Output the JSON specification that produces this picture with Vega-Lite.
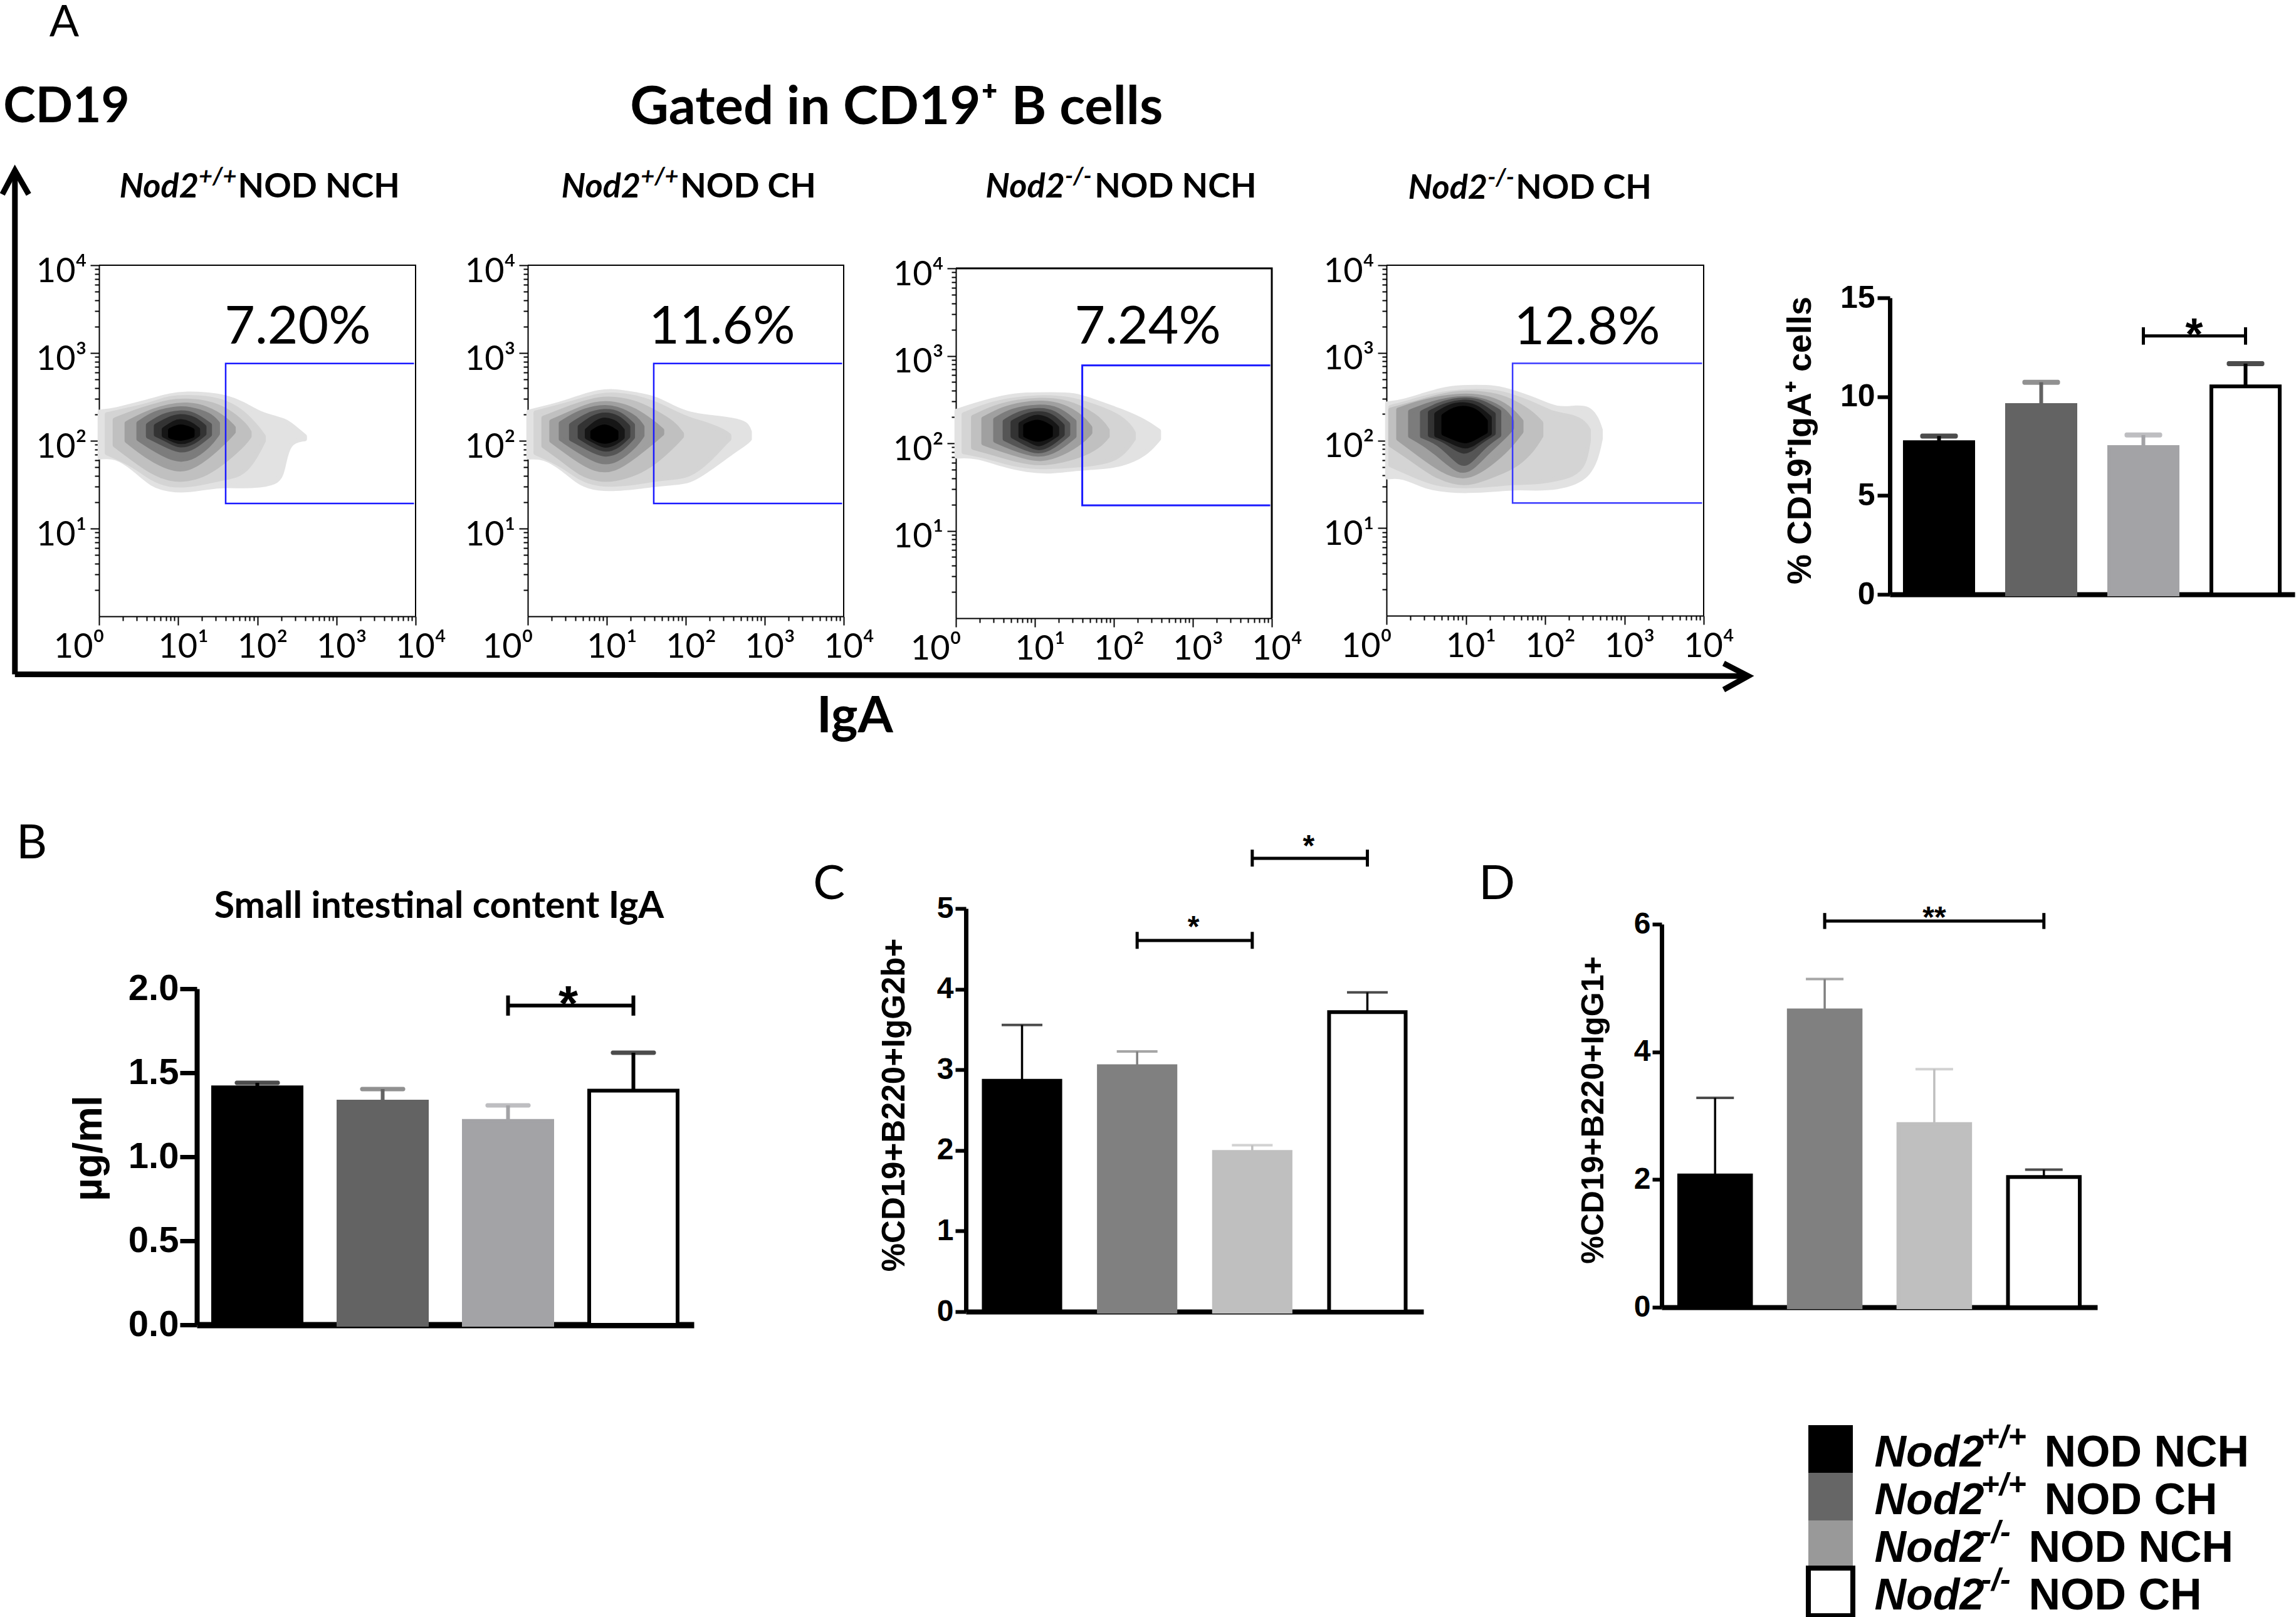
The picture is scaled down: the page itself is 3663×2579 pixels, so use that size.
{"$schema":"https://vega.github.io/schema/vega-lite/v6.json","autosize":{"type":"none"},"padding":{"left":158,"top":423,"right":3505,"bottom":2156},"background":"white","config":{"view":{"stroke":null},"axis":{"grid":false,"domainColor":"#000","tickColor":"#000","labelColor":"#000"}},
"resolve":{"scale":{"color":"independent","fill":"independent","stroke":"independent"}},
"datasets":{
"frame":[{"o":1,"x":0,"y":4},{"o":2,"x":4,"y":4},{"o":3,"x":4,"y":0}],
"gate":[{"panel":1,"o":1,"x":3.98,"y":2.88},{"panel":1,"o":2,"x":1.6,"y":2.88},{"panel":1,"o":3,"x":1.6,"y":1.286},{"panel":1,"o":4,"x":3.98,"y":1.286},{"panel":2,"o":1,"x":3.98,"y":2.88},{"panel":2,"o":2,"x":1.595,"y":2.88},{"panel":2,"o":3,"x":1.595,"y":1.286},{"panel":2,"o":4,"x":3.98,"y":1.286},{"panel":3,"o":1,"x":3.98,"y":2.89},{"panel":3,"o":2,"x":1.6,"y":2.89},{"panel":3,"o":3,"x":1.6,"y":1.29},{"panel":3,"o":4,"x":3.98,"y":1.29},{"panel":4,"o":1,"x":3.98,"y":2.88},{"panel":4,"o":2,"x":1.59,"y":2.88},{"panel":4,"o":3,"x":1.59,"y":1.286},{"panel":4,"o":4,"x":3.98,"y":1.286}],
"flow":[
{"panel":1,"level":1,"x":0.01,"y":2.33,"y2":1.81},{"panel":1,"level":1,"x":0.2,"y":2.35,"y2":1.83},{"panel":1,"level":1,"x":0.45,"y":2.41,"y2":1.68},{"panel":1,"level":1,"x":0.67,"y":2.46,"y2":1.49},{"panel":1,"level":1,"x":0.89,"y":2.52,"y2":1.44},{"panel":1,"level":1,"x":1.11,"y":2.54,"y2":1.43},{"panel":1,"level":1,"x":1.36,"y":2.53,"y2":1.47},{"panel":1,"level":1,"x":1.61,"y":2.5,"y2":1.49},{"panel":1,"level":1,"x":1.83,"y":2.42,"y2":1.48},{"panel":1,"level":1,"x":2.02,"y":2.31,"y2":1.49},{"panel":1,"level":1,"x":2.27,"y":2.25,"y2":1.52},{"panel":1,"level":1,"x":2.33,"y":2.23,"y2":1.69},{"panel":1,"level":1,"x":2.39,"y":2.21,"y2":1.99},{"panel":1,"level":1,"x":2.6,"y":2.05,"y2":2.02},
{"panel":1,"level":2,"x":0.1,"y":2.3,"y2":1.86},{"panel":1,"level":2,"x":0.45,"y":2.37,"y2":1.72},{"panel":1,"level":2,"x":0.67,"y":2.42,"y2":1.56},{"panel":1,"level":2,"x":0.89,"y":2.49,"y2":1.49},{"panel":1,"level":2,"x":1.11,"y":2.5,"y2":1.49},{"panel":1,"level":2,"x":1.36,"y":2.49,"y2":1.53},{"panel":1,"level":2,"x":1.61,"y":2.44,"y2":1.58},{"panel":1,"level":2,"x":1.83,"y":2.32,"y2":1.62},{"panel":1,"level":2,"x":2.0,"y":2.15,"y2":1.85},{"panel":1,"level":2,"x":2.08,"y":2.05,"y2":2.0},
{"panel":1,"level":3,"x":0.2,"y":2.24,"y2":1.95},{"panel":1,"level":3,"x":0.45,"y":2.33,"y2":1.78},{"panel":1,"level":3,"x":0.67,"y":2.39,"y2":1.64},{"panel":1,"level":3,"x":0.89,"y":2.45,"y2":1.56},{"panel":1,"level":3,"x":1.11,"y":2.46,"y2":1.55},{"panel":1,"level":3,"x":1.36,"y":2.44,"y2":1.62},{"panel":1,"level":3,"x":1.61,"y":2.36,"y2":1.78},{"panel":1,"level":3,"x":1.85,"y":2.18,"y2":1.98},{"panel":1,"level":3,"x":1.9,"y":2.1,"y2":2.05},
{"panel":1,"level":4,"x":0.35,"y":2.2,"y2":2.0},{"panel":1,"level":4,"x":0.6,"y":2.32,"y2":1.82},{"panel":1,"level":4,"x":0.89,"y":2.4,"y2":1.68},{"panel":1,"level":4,"x":1.11,"y":2.42,"y2":1.66},{"panel":1,"level":4,"x":1.36,"y":2.38,"y2":1.8},{"panel":1,"level":4,"x":1.6,"y":2.25,"y2":2.0},{"panel":1,"level":4,"x":1.7,"y":2.15,"y2":2.1},
{"panel":1,"level":5,"x":0.5,"y":2.2,"y2":2.02},{"panel":1,"level":5,"x":0.7,"y":2.32,"y2":1.9},{"panel":1,"level":5,"x":0.95,"y":2.37,"y2":1.78},{"panel":1,"level":5,"x":1.15,"y":2.37,"y2":1.78},{"panel":1,"level":5,"x":1.4,"y":2.3,"y2":1.95},{"panel":1,"level":5,"x":1.5,"y":2.2,"y2":2.08},
{"panel":1,"level":6,"x":0.62,"y":2.18,"y2":2.05},{"panel":1,"level":6,"x":0.8,"y":2.29,"y2":1.97},{"panel":1,"level":6,"x":1.02,"y":2.33,"y2":1.87},{"panel":1,"level":6,"x":1.2,"y":2.31,"y2":1.92},{"panel":1,"level":6,"x":1.4,"y":2.18,"y2":2.07},
{"panel":1,"level":7,"x":0.72,"y":2.17,"y2":2.07},{"panel":1,"level":7,"x":0.88,"y":2.25,"y2":2.0},{"panel":1,"level":7,"x":1.02,"y":2.29,"y2":1.93},{"panel":1,"level":7,"x":1.2,"y":2.26,"y2":1.98},{"panel":1,"level":7,"x":1.33,"y":2.16,"y2":2.08},
{"panel":1,"level":8,"x":0.82,"y":2.13,"y2":2.06},{"panel":1,"level":8,"x":0.95,"y":2.21,"y2":2.0},{"panel":1,"level":8,"x":1.03,"y":2.23,"y2":1.98},{"panel":1,"level":8,"x":1.15,"y":2.2,"y2":2.0},{"panel":1,"level":8,"x":1.25,"y":2.13,"y2":2.07},
{"panel":1,"level":9,"x":0.9,"y":2.12,"y2":2.05},{"panel":1,"level":9,"x":1.03,"y":2.18,"y2":2.01},{"panel":1,"level":9,"x":1.18,"y":2.12,"y2":2.06},
{"panel":2,"level":1,"x":0.01,"y":2.33,"y2":1.81},{"panel":2,"level":1,"x":0.2,"y":2.37,"y2":1.82},{"panel":2,"level":1,"x":0.45,"y":2.43,"y2":1.68},{"panel":2,"level":1,"x":0.67,"y":2.5,"y2":1.5},{"panel":2,"level":1,"x":0.9,"y":2.56,"y2":1.45},{"panel":2,"level":1,"x":1.11,"y":2.57,"y2":1.45},{"panel":2,"level":1,"x":1.36,"y":2.53,"y2":1.47},{"panel":2,"level":1,"x":1.61,"y":2.49,"y2":1.5},{"panel":2,"level":1,"x":1.83,"y":2.38,"y2":1.52},{"panel":2,"level":1,"x":2.05,"y":2.3,"y2":1.53},{"panel":2,"level":1,"x":2.3,"y":2.27,"y2":1.68},{"panel":2,"level":1,"x":2.6,"y":2.24,"y2":1.88},{"panel":2,"level":1,"x":2.77,"y":2.2,"y2":1.98},{"panel":2,"level":1,"x":2.81,"y":2.1,"y2":2.02},
{"panel":2,"level":2,"x":0.1,"y":2.32,"y2":1.86},{"panel":2,"level":2,"x":0.45,"y":2.4,"y2":1.72},{"panel":2,"level":2,"x":0.67,"y":2.46,"y2":1.56},{"panel":2,"level":2,"x":0.9,"y":2.52,"y2":1.5},{"panel":2,"level":2,"x":1.11,"y":2.53,"y2":1.5},{"panel":2,"level":2,"x":1.36,"y":2.5,"y2":1.52},{"panel":2,"level":2,"x":1.61,"y":2.43,"y2":1.56},{"panel":2,"level":2,"x":1.83,"y":2.33,"y2":1.58},{"panel":2,"level":2,"x":2.05,"y":2.24,"y2":1.6},{"panel":2,"level":2,"x":2.3,"y":2.18,"y2":1.78},{"panel":2,"level":2,"x":2.5,"y":2.1,"y2":1.98},{"panel":2,"level":2,"x":2.55,"y":2.06,"y2":2.02},
{"panel":2,"level":3,"x":0.2,"y":2.26,"y2":1.94},{"panel":2,"level":3,"x":0.45,"y":2.35,"y2":1.78},{"panel":2,"level":3,"x":0.67,"y":2.42,"y2":1.62},{"panel":2,"level":3,"x":0.9,"y":2.48,"y2":1.55},{"panel":2,"level":3,"x":1.11,"y":2.48,"y2":1.56},{"panel":2,"level":3,"x":1.36,"y":2.44,"y2":1.62},{"panel":2,"level":3,"x":1.61,"y":2.33,"y2":1.75},{"panel":2,"level":3,"x":1.85,"y":2.2,"y2":1.95},{"panel":2,"level":3,"x":1.95,"y":2.08,"y2":2.05},
{"panel":2,"level":4,"x":0.3,"y":2.22,"y2":2.0},{"panel":2,"level":4,"x":0.6,"y":2.34,"y2":1.8},{"panel":2,"level":4,"x":0.85,"y":2.43,"y2":1.66},{"panel":2,"level":4,"x":1.1,"y":2.43,"y2":1.66},{"panel":2,"level":4,"x":1.35,"y":2.36,"y2":1.82},{"panel":2,"level":4,"x":1.6,"y":2.2,"y2":2.0},{"panel":2,"level":4,"x":1.7,"y":2.12,"y2":2.08},
{"panel":2,"level":5,"x":0.42,"y":2.2,"y2":2.02},{"panel":2,"level":5,"x":0.65,"y":2.33,"y2":1.88},{"panel":2,"level":5,"x":0.92,"y":2.39,"y2":1.74},{"panel":2,"level":5,"x":1.12,"y":2.38,"y2":1.76},{"panel":2,"level":5,"x":1.38,"y":2.26,"y2":1.96},{"panel":2,"level":5,"x":1.45,"y":2.16,"y2":2.06},
{"panel":2,"level":6,"x":0.55,"y":2.18,"y2":2.02},{"panel":2,"level":6,"x":0.75,"y":2.3,"y2":1.92},{"panel":2,"level":6,"x":0.97,"y":2.35,"y2":1.82},{"panel":2,"level":6,"x":1.17,"y":2.32,"y2":1.88},{"panel":2,"level":6,"x":1.33,"y":2.18,"y2":2.04},
{"panel":2,"level":7,"x":0.66,"y":2.16,"y2":2.04},{"panel":2,"level":7,"x":0.82,"y":2.27,"y2":1.95},{"panel":2,"level":7,"x":0.98,"y":2.31,"y2":1.88},{"panel":2,"level":7,"x":1.15,"y":2.27,"y2":1.94},{"panel":2,"level":7,"x":1.27,"y":2.16,"y2":2.05},
{"panel":2,"level":8,"x":0.75,"y":2.12,"y2":2.04},{"panel":2,"level":8,"x":0.88,"y":2.22,"y2":1.98},{"panel":2,"level":8,"x":0.98,"y":2.25,"y2":1.93},{"panel":2,"level":8,"x":1.12,"y":2.21,"y2":1.98},{"panel":2,"level":8,"x":1.2,"y":2.12,"y2":2.04},
{"panel":2,"level":9,"x":0.82,"y":2.1,"y2":2.04},{"panel":2,"level":9,"x":0.97,"y":2.19,"y2":1.97},{"panel":2,"level":9,"x":1.12,"y":2.1,"y2":2.03},
{"panel":3,"level":1,"x":0.01,"y":2.37,"y2":1.85},{"panel":3,"level":1,"x":0.25,"y":2.44,"y2":1.86},{"panel":3,"level":1,"x":0.6,"y":2.53,"y2":1.75},{"panel":3,"level":1,"x":0.9,"y":2.56,"y2":1.69},{"panel":3,"level":1,"x":1.2,"y":2.56,"y2":1.67},{"panel":3,"level":1,"x":1.5,"y":2.56,"y2":1.71},{"panel":3,"level":1,"x":1.75,"y":2.48,"y2":1.72},{"panel":3,"level":1,"x":2.1,"y":2.37,"y2":1.75},{"panel":3,"level":1,"x":2.4,"y":2.25,"y2":1.87},{"panel":3,"level":1,"x":2.57,"y":2.14,"y2":2.05},
{"panel":3,"level":2,"x":0.1,"y":2.33,"y2":1.9},{"panel":3,"level":2,"x":0.4,"y":2.44,"y2":1.85},{"panel":3,"level":2,"x":0.7,"y":2.5,"y2":1.76},{"panel":3,"level":2,"x":1.05,"y":2.53,"y2":1.72},{"panel":3,"level":2,"x":1.4,"y":2.52,"y2":1.74},{"panel":3,"level":2,"x":1.75,"y":2.43,"y2":1.76},{"panel":3,"level":2,"x":2.05,"y":2.32,"y2":1.82},{"panel":3,"level":2,"x":2.2,"y":2.2,"y2":1.98},{"panel":3,"level":2,"x":2.25,"y":2.12,"y2":2.05},
{"panel":3,"level":3,"x":0.22,"y":2.3,"y2":1.95},{"panel":3,"level":3,"x":0.5,"y":2.42,"y2":1.88},{"panel":3,"level":3,"x":0.8,"y":2.48,"y2":1.8},{"panel":3,"level":3,"x":1.05,"y":2.5,"y2":1.76},{"panel":3,"level":3,"x":1.35,"y":2.49,"y2":1.8},{"panel":3,"level":3,"x":1.65,"y":2.38,"y2":1.88},{"panel":3,"level":3,"x":1.85,"y":2.25,"y2":2.0},{"panel":3,"level":3,"x":1.92,"y":2.15,"y2":2.08},
{"panel":3,"level":4,"x":0.35,"y":2.28,"y2":2.0},{"panel":3,"level":4,"x":0.6,"y":2.4,"y2":1.92},{"panel":3,"level":4,"x":0.85,"y":2.45,"y2":1.85},{"panel":3,"level":4,"x":1.08,"y":2.47,"y2":1.8},{"panel":3,"level":4,"x":1.35,"y":2.44,"y2":1.88},{"panel":3,"level":4,"x":1.6,"y":2.3,"y2":2.02},{"panel":3,"level":4,"x":1.7,"y":2.18,"y2":2.12},
{"panel":3,"level":5,"x":0.5,"y":2.27,"y2":2.03},{"panel":3,"level":5,"x":0.7,"y":2.38,"y2":1.95},{"panel":3,"level":5,"x":1.05,"y":2.43,"y2":1.84},{"panel":3,"level":5,"x":1.3,"y":2.4,"y2":1.93},{"panel":3,"level":5,"x":1.5,"y":2.25,"y2":2.08},
{"panel":3,"level":6,"x":0.62,"y":2.25,"y2":2.05},{"panel":3,"level":6,"x":0.8,"y":2.35,"y2":1.97},{"panel":3,"level":6,"x":1.05,"y":2.39,"y2":1.88},{"panel":3,"level":6,"x":1.25,"y":2.36,"y2":1.97},{"panel":3,"level":6,"x":1.42,"y":2.22,"y2":2.1},
{"panel":3,"level":7,"x":0.72,"y":2.24,"y2":2.08},{"panel":3,"level":7,"x":0.88,"y":2.32,"y2":2.0},{"panel":3,"level":7,"x":1.05,"y":2.35,"y2":1.92},{"panel":3,"level":7,"x":1.22,"y":2.32,"y2":2.0},{"panel":3,"level":7,"x":1.35,"y":2.2,"y2":2.1},
{"panel":3,"level":8,"x":0.82,"y":2.22,"y2":2.08},{"panel":3,"level":8,"x":0.95,"y":2.29,"y2":2.03},{"panel":3,"level":8,"x":1.05,"y":2.31,"y2":1.97},{"panel":3,"level":8,"x":1.18,"y":2.27,"y2":2.04},{"panel":3,"level":8,"x":1.28,"y":2.18,"y2":2.1},
{"panel":3,"level":9,"x":0.88,"y":2.2,"y2":2.09},{"panel":3,"level":9,"x":1.04,"y":2.27,"y2":2.02},{"panel":3,"level":9,"x":1.2,"y":2.18,"y2":2.09},
{"panel":4,"level":1,"x":0.01,"y":2.42,"y2":1.58},{"panel":4,"level":1,"x":0.2,"y":2.44,"y2":1.6},{"panel":4,"level":1,"x":0.5,"y":2.53,"y2":1.46},{"panel":4,"level":1,"x":0.8,"y":2.6,"y2":1.43},{"panel":4,"level":1,"x":1.0,"y":2.61,"y2":1.42},{"panel":4,"level":1,"x":1.4,"y":2.61,"y2":1.44},{"panel":4,"level":1,"x":1.6,"y":2.55,"y2":1.46},{"panel":4,"level":1,"x":1.9,"y":2.46,"y2":1.45},{"panel":4,"level":1,"x":2.15,"y":2.35,"y2":1.46},{"panel":4,"level":1,"x":2.4,"y":2.38,"y2":1.52},{"panel":4,"level":1,"x":2.55,"y":2.37,"y2":1.62},{"panel":4,"level":1,"x":2.65,"y":2.26,"y2":1.8},{"panel":4,"level":1,"x":2.7,"y":2.12,"y2":2.02},
{"panel":4,"level":2,"x":0.05,"y":2.38,"y2":1.72},{"panel":4,"level":2,"x":0.3,"y":2.44,"y2":1.62},{"panel":4,"level":2,"x":0.6,"y":2.52,"y2":1.5},{"panel":4,"level":2,"x":1.0,"y":2.57,"y2":1.47},{"panel":4,"level":2,"x":1.4,"y":2.56,"y2":1.5},{"panel":4,"level":2,"x":1.6,"y":2.5,"y2":1.52},{"panel":4,"level":2,"x":1.9,"y":2.4,"y2":1.52},{"panel":4,"level":2,"x":2.1,"y":2.3,"y2":1.55},{"panel":4,"level":2,"x":2.35,"y":2.28,"y2":1.6},{"panel":4,"level":2,"x":2.5,"y":2.2,"y2":1.72},{"panel":4,"level":2,"x":2.55,"y":2.12,"y2":2.0},
{"panel":4,"level":3,"x":0.05,"y":2.35,"y2":1.95},{"panel":4,"level":3,"x":0.3,"y":2.41,"y2":1.8},{"panel":4,"level":3,"x":0.6,"y":2.49,"y2":1.6},{"panel":4,"level":3,"x":0.85,"y":2.54,"y2":1.52},{"panel":4,"level":3,"x":1.05,"y":2.55,"y2":1.5},{"panel":4,"level":3,"x":1.4,"y":2.52,"y2":1.62},{"panel":4,"level":3,"x":1.65,"y":2.42,"y2":1.72},{"panel":4,"level":3,"x":1.85,"y":2.3,"y2":1.9},{"panel":4,"level":3,"x":1.95,"y":2.2,"y2":2.05},
{"panel":4,"level":4,"x":0.15,"y":2.35,"y2":2.02},{"panel":4,"level":4,"x":0.4,"y":2.43,"y2":1.85},{"panel":4,"level":4,"x":0.7,"y":2.49,"y2":1.65},{"panel":4,"level":4,"x":1.0,"y":2.52,"y2":1.55},{"panel":4,"level":4,"x":1.3,"y":2.49,"y2":1.72},{"panel":4,"level":4,"x":1.55,"y":2.38,"y2":1.92},{"panel":4,"level":4,"x":1.7,"y":2.22,"y2":2.1},
{"panel":4,"level":5,"x":0.3,"y":2.33,"y2":2.05},{"panel":4,"level":5,"x":0.55,"y":2.42,"y2":1.92},{"panel":4,"level":5,"x":0.8,"y":2.47,"y2":1.72},{"panel":4,"level":5,"x":1.0,"y":2.49,"y2":1.6},{"panel":4,"level":5,"x":1.25,"y":2.46,"y2":1.85},{"panel":4,"level":5,"x":1.5,"y":2.34,"y2":2.05},{"panel":4,"level":5,"x":1.58,"y":2.22,"y2":2.14},
{"panel":4,"level":6,"x":0.45,"y":2.32,"y2":2.05},{"panel":4,"level":6,"x":0.65,"y":2.41,"y2":1.98},{"panel":4,"level":6,"x":0.85,"y":2.46,"y2":1.8},{"panel":4,"level":6,"x":1.0,"y":2.47,"y2":1.68},{"panel":4,"level":6,"x":1.2,"y":2.45,"y2":1.92},{"panel":4,"level":6,"x":1.42,"y":2.33,"y2":2.06},
{"panel":4,"level":7,"x":0.55,"y":2.32,"y2":2.06},{"panel":4,"level":7,"x":0.75,"y":2.41,"y2":2.0},{"panel":4,"level":7,"x":0.98,"y":2.45,"y2":1.82},{"panel":4,"level":7,"x":1.15,"y":2.43,"y2":1.97},{"panel":4,"level":7,"x":1.35,"y":2.3,"y2":2.08},
{"panel":4,"level":8,"x":0.63,"y":2.3,"y2":2.06},{"panel":4,"level":8,"x":0.8,"y":2.4,"y2":2.0},{"panel":4,"level":8,"x":1.0,"y":2.42,"y2":1.9},{"panel":4,"level":8,"x":1.15,"y":2.38,"y2":2.0},{"panel":4,"level":8,"x":1.3,"y":2.26,"y2":2.08},
{"panel":4,"level":9,"x":0.72,"y":2.28,"y2":2.08},{"panel":4,"level":9,"x":0.85,"y":2.36,"y2":2.03},{"panel":4,"level":9,"x":1.0,"y":2.38,"y2":1.97},{"panel":4,"level":9,"x":1.15,"y":2.33,"y2":2.05},{"panel":4,"level":9,"x":1.25,"y":2.22,"y2":2.1}
],
"labels":[
{"panel":1,"pct":"7.20%","px":2.51,"py":3.11,"nod":"Nod2","sup":"+/+","rest":"NOD NCH","nx":1.26,"rx":1.755,"ty":4.77,"sy":4.92},
{"panel":2,"pct":"11.6%","px":2.46,"py":3.11,"nod":"Nod2","sup":"+/+","rest":"NOD CH","nx":1.43,"rx":1.93,"ty":4.77,"sy":4.92},
{"panel":3,"pct":"7.24%","px":2.43,"py":3.14,"nod":"Nod2","sup":"-/-","rest":"NOD NCH","nx":1.38,"rx":1.755,"ty":4.81,"sy":4.96},
{"panel":4,"pct":"12.8%","px":2.53,"py":3.1,"nod":"Nod2","sup":"-/-","rest":"NOD CH","nx":1.274,"rx":1.63,"ty":4.76,"sy":4.91}
],
"bars":[
{"panel":"A","group":"g1","mean":7.7,"upper":8.01},{"panel":"A","group":"g2","mean":9.58,"upper":10.73},{"panel":"A","group":"g3","mean":7.45,"upper":8.06},{"panel":"A","group":"g4","mean":10.52,"upper":11.67},
{"panel":"B","group":"g1","mean":1.413,"upper":1.44},{"panel":"B","group":"g2","mean":1.328,"upper":1.403},{"panel":"B","group":"g3","mean":1.214,"upper":1.306},{"panel":"B","group":"g4","mean":1.394,"upper":1.619},
{"panel":"C","group":"g1","mean":2.864,"upper":3.555},{"panel":"C","group":"g2","mean":3.045,"upper":3.227},{"panel":"C","group":"g3","mean":1.98,"upper":2.064},{"panel":"C","group":"g4","mean":3.715,"upper":3.96},
{"panel":"D","group":"g1","mean":2.065,"upper":3.28},{"panel":"D","group":"g2","mean":4.65,"upper":5.14},{"panel":"D","group":"g3","mean":2.87,"upper":3.73},{"panel":"D","group":"g4","mean":2.04,"upper":2.155}
],
"brackets":[
{"panel":"A","id":1,"group":"g3","y":13.07,"lo":12.63,"hi":13.51},{"panel":"A","id":1,"group":"g4","y":13.07,"lo":12.63,"hi":13.51},
{"panel":"B","id":1,"group":"g3","y":1.9,"lo":1.84,"hi":1.96},{"panel":"B","id":1,"group":"g4","y":1.9,"lo":1.84,"hi":1.96},
{"panel":"C","id":1,"group":"g2","y":4.604,"lo":4.5,"hi":4.71},{"panel":"C","id":1,"group":"g3","y":4.604,"lo":4.5,"hi":4.71},{"panel":"C","id":2,"group":"g3","y":5.623,"lo":5.52,"hi":5.73},{"panel":"C","id":2,"group":"g4","y":5.623,"lo":5.52,"hi":5.73},
{"panel":"D","id":1,"group":"g2","y":6.05,"lo":5.925,"hi":6.175},{"panel":"D","id":1,"group":"g4","y":6.05,"lo":5.925,"hi":6.175}
]
},
"concat":[
{"width":684,"height":560,"encoding":{"x":{"field":"x","type":"quantitative","scale":{"domain":[0,4],"range":[0,505],"nice":false,"zero":false},"axis":{"title":null,"grid":false,"values":[0,0.301,0.477,0.602,0.699,0.778,0.845,0.903,0.954,1,1.301,1.477,1.602,1.699,1.778,1.845,1.903,1.954,2,2.301,2.477,2.602,2.699,2.778,2.845,2.903,2.954,3,3.301,3.477,3.602,3.699,3.778,3.845,3.903,3.954,4],"labelExpr":"datum.value % 1 === 0 ? '10' + ['⁰','¹','²','³','⁴'][datum.value] : ''","labelFont":"Lato","labelFontSize":54,"labelOverlap":false,"labelBound":false,"labelFlush":false,"labelPadding":8,"labelOffset":8,"labelAlign":{"condition":{"test":"datum.value === 0","value":"right"},"value":"center"},"tickSize":{"condition":{"test":"datum.value % 1 === 0","value":14},"value":7},"tickWidth":2,"domainWidth":2}},"y":{"field":"y","type":"quantitative","scale":{"domain":[0,4],"range":[560,0],"nice":false,"zero":false},"axis":{"title":null,"grid":false,"values":[0.301,0.477,0.602,0.699,0.778,0.845,0.903,0.954,1,1.301,1.477,1.602,1.699,1.778,1.845,1.903,1.954,2,2.301,2.477,2.602,2.699,2.778,2.845,2.903,2.954,3,3.301,3.477,3.602,3.699,3.778,3.845,3.903,3.954,4],"labelExpr":"datum.value % 1 === 0 ? '10' + ['⁰','¹','²','³','⁴'][datum.value] : ''","labelFont":"Lato","labelFontSize":54,"labelOverlap":false,"labelBound":false,"labelFlush":false,"labelPadding":6,"labelOffset":10,"tickSize":{"condition":{"test":"datum.value % 1 === 0","value":14},"value":7},"tickWidth":2,"domainWidth":2}}},
"layer":[
{"data":{"name":"flow"},"transform":[{"filter":"datum.panel===1"}],"mark":{"type":"area","interpolate":"basis","strokeWidth":7,"strokeJoin":"round"},"encoding":{"y2":{"field":"y2"},"color":{"field":"level","type":"ordinal","legend":null,"scale":{"domain":[1,2,3,4,5,6,7,8,9],"range":["#e2e2e2","#d4d4d4","#c0c0c0","#a0a0a0","#7c7c7c","#555555","#333333","#161616","#000000"]}},"stroke":{"field":"level","type":"ordinal","legend":null,"scale":{"domain":[1,2,3,4,5,6,7,8,9],"range":["#e2e2e2","#d4d4d4","#c0c0c0","#a0a0a0","#7c7c7c","#555555","#333333","#161616","#000000"]}}}},
{"data":{"name":"frame"},"mark":{"type":"line","color":"#000","strokeWidth":2},"encoding":{"order":{"field":"o"}}},
{"data":{"name":"gate"},"transform":[{"filter":"datum.panel===1"}],"mark":{"type":"line","color":"#1a1aff","strokeWidth":2.5},"encoding":{"order":{"field":"o"}}},
{"data":{"name":"labels"},"transform":[{"filter":"datum.panel===1"}],"mark":{"type":"text","font":"Lato","fontSize":84,"baseline":"alphabetic","align":"center"},"encoding":{"x":{"field":"px"},"y":{"field":"py"},"text":{"field":"pct"}}},
{"data":{"name":"labels"},"transform":[{"filter":"datum.panel===1"}],"mark":{"type":"text","font":"Lato","fontSize":54,"fontWeight":"bold","fontStyle":"italic","baseline":"alphabetic","align":"right"},"encoding":{"x":{"field":"nx"},"y":{"field":"ty"},"text":{"field":"nod"}}},
{"data":{"name":"labels"},"transform":[{"filter":"datum.panel===1"}],"mark":{"type":"text","font":"Lato","fontSize":38,"fontWeight":"bold","fontStyle":"italic","baseline":"alphabetic","align":"left"},"encoding":{"x":{"field":"nx"},"y":{"field":"sy"},"text":{"field":"sup"}}},
{"data":{"name":"labels"},"transform":[{"filter":"datum.panel===1"}],"mark":{"type":"text","font":"Lato","fontSize":54,"fontWeight":"bold","baseline":"alphabetic","align":"left"},"encoding":{"x":{"field":"rx"},"y":{"field":"ty"},"text":{"field":"rest"}}},
{"data":{"values":[{"seg":"a","o":1,"x":-1.063,"y":-0.66},{"seg":"a","o":2,"x":-1.063,"y":5.08},{"seg":"b","o":1,"x":-1.222,"y":4.807},{"seg":"b","o":2,"x":-1.063,"y":5.08},{"seg":"b","o":3,"x":-0.889,"y":4.807},{"seg":"c","o":1,"x":-1.063,"y":-0.66},{"seg":"c","o":2,"x":20.84,"y":-0.68},{"seg":"d","o":1,"x":20.53,"y":-0.536},{"seg":"d","o":2,"x":20.84,"y":-0.68},{"seg":"d","o":3,"x":20.53,"y":-0.836}]},"mark":{"type":"line","color":"#000","strokeWidth":9},"encoding":{"detail":{"field":"seg"},"order":{"field":"o"}}},
{"data":{"values":[{"x":-0.627,"y":6.61,"t":"A"}]},"mark":{"type":"text","font":"Lato","fontSize":70,"baseline":"alphabetic","align":"left"},"encoding":{"text":{"field":"t"}}},
{"data":{"values":[{"x":-1.21,"y":5.63,"t":"CD19"}]},"mark":{"type":"text","font":"Lato","fontSize":78,"fontWeight":"bold","baseline":"alphabetic","align":"left"},"encoding":{"text":{"field":"t"}}},
{"data":{"values":[{"x":6.71,"y":5.61,"t":"Gated in CD19⁺ B cells"}]},"mark":{"type":"text","font":"Lato","fontSize":85,"fontWeight":"bold","baseline":"alphabetic","align":"left"},"encoding":{"text":{"field":"t"}}},
{"data":{"values":[{"x":9.07,"y":-1.32,"t":"IgA"}]},"mark":{"type":"text","font":"Lato","fontSize":81,"fontWeight":"bold","baseline":"alphabetic","align":"left"},"encoding":{"text":{"field":"t"}}}
]},
{"width":683,"height":560,"encoding":{"x":{"field":"x","type":"quantitative","scale":{"domain":[0,4],"range":[0,504],"nice":false,"zero":false},"axis":{"title":null,"grid":false,"values":[0,0.301,0.477,0.602,0.699,0.778,0.845,0.903,0.954,1,1.301,1.477,1.602,1.699,1.778,1.845,1.903,1.954,2,2.301,2.477,2.602,2.699,2.778,2.845,2.903,2.954,3,3.301,3.477,3.602,3.699,3.778,3.845,3.903,3.954,4],"labelExpr":"datum.value % 1 === 0 ? '10' + ['⁰','¹','²','³','⁴'][datum.value] : ''","labelFont":"Lato","labelFontSize":54,"labelOverlap":false,"labelBound":false,"labelFlush":false,"labelPadding":8,"labelOffset":8,"labelAlign":{"condition":{"test":"datum.value === 0","value":"right"},"value":"center"},"tickSize":{"condition":{"test":"datum.value % 1 === 0","value":14},"value":7},"tickWidth":2,"domainWidth":2}},"y":{"field":"y","type":"quantitative","scale":{"domain":[0,4],"range":[560,0],"nice":false,"zero":false},"axis":{"title":null,"grid":false,"values":[0.301,0.477,0.602,0.699,0.778,0.845,0.903,0.954,1,1.301,1.477,1.602,1.699,1.778,1.845,1.903,1.954,2,2.301,2.477,2.602,2.699,2.778,2.845,2.903,2.954,3,3.301,3.477,3.602,3.699,3.778,3.845,3.903,3.954,4],"labelExpr":"datum.value % 1 === 0 ? '10' + ['⁰','¹','²','³','⁴'][datum.value] : ''","labelFont":"Lato","labelFontSize":54,"labelOverlap":false,"labelBound":false,"labelFlush":false,"labelPadding":6,"labelOffset":10,"tickSize":{"condition":{"test":"datum.value % 1 === 0","value":14},"value":7},"tickWidth":2,"domainWidth":2}}},
"layer":[
{"data":{"name":"flow"},"transform":[{"filter":"datum.panel===2"}],"mark":{"type":"area","interpolate":"basis","strokeWidth":7,"strokeJoin":"round"},"encoding":{"y2":{"field":"y2"},"color":{"field":"level","type":"ordinal","legend":null,"scale":{"domain":[1,2,3,4,5,6,7,8,9],"range":["#e2e2e2","#d4d4d4","#c0c0c0","#a0a0a0","#7c7c7c","#555555","#333333","#161616","#000000"]}},"stroke":{"field":"level","type":"ordinal","legend":null,"scale":{"domain":[1,2,3,4,5,6,7,8,9],"range":["#e2e2e2","#d4d4d4","#c0c0c0","#a0a0a0","#7c7c7c","#555555","#333333","#161616","#000000"]}}}},
{"data":{"name":"frame"},"mark":{"type":"line","color":"#000","strokeWidth":2},"encoding":{"order":{"field":"o"}}},
{"data":{"name":"gate"},"transform":[{"filter":"datum.panel===2"}],"mark":{"type":"line","color":"#1a1aff","strokeWidth":2.5},"encoding":{"order":{"field":"o"}}},
{"data":{"name":"labels"},"transform":[{"filter":"datum.panel===2"}],"mark":{"type":"text","font":"Lato","fontSize":84,"baseline":"alphabetic","align":"center"},"encoding":{"x":{"field":"px"},"y":{"field":"py"},"text":{"field":"pct"}}},
{"data":{"name":"labels"},"transform":[{"filter":"datum.panel===2"}],"mark":{"type":"text","font":"Lato","fontSize":54,"fontWeight":"bold","fontStyle":"italic","baseline":"alphabetic","align":"right"},"encoding":{"x":{"field":"nx"},"y":{"field":"ty"},"text":{"field":"nod"}}},
{"data":{"name":"labels"},"transform":[{"filter":"datum.panel===2"}],"mark":{"type":"text","font":"Lato","fontSize":38,"fontWeight":"bold","fontStyle":"italic","baseline":"alphabetic","align":"left"},"encoding":{"x":{"field":"nx"},"y":{"field":"sy"},"text":{"field":"sup"}}},
{"data":{"name":"labels"},"transform":[{"filter":"datum.panel===2"}],"mark":{"type":"text","font":"Lato","fontSize":54,"fontWeight":"bold","baseline":"alphabetic","align":"left"},"encoding":{"x":{"field":"rx"},"y":{"field":"ty"},"text":{"field":"rest"}}}
]},
{"width":687,"height":563,"encoding":{"x":{"field":"x","type":"quantitative","scale":{"domain":[0,4],"range":[0,504],"nice":false,"zero":false},"axis":{"title":null,"grid":false,"values":[0,0.301,0.477,0.602,0.699,0.778,0.845,0.903,0.954,1,1.301,1.477,1.602,1.699,1.778,1.845,1.903,1.954,2,2.301,2.477,2.602,2.699,2.778,2.845,2.903,2.954,3,3.301,3.477,3.602,3.699,3.778,3.845,3.903,3.954,4],"labelExpr":"datum.value % 1 === 0 ? '10' + ['⁰','¹','²','³','⁴'][datum.value] : ''","labelFont":"Lato","labelFontSize":54,"labelOverlap":false,"labelBound":false,"labelFlush":false,"labelPadding":8,"labelOffset":8,"labelAlign":{"condition":{"test":"datum.value === 0","value":"right"},"value":"center"},"tickSize":{"condition":{"test":"datum.value % 1 === 0","value":14},"value":7},"tickWidth":2,"domainWidth":2}},"y":{"field":"y","type":"quantitative","scale":{"domain":[0,4],"range":[563,5],"nice":false,"zero":false},"axis":{"title":null,"grid":false,"values":[0.301,0.477,0.602,0.699,0.778,0.845,0.903,0.954,1,1.301,1.477,1.602,1.699,1.778,1.845,1.903,1.954,2,2.301,2.477,2.602,2.699,2.778,2.845,2.903,2.954,3,3.301,3.477,3.602,3.699,3.778,3.845,3.903,3.954,4],"labelExpr":"datum.value % 1 === 0 ? '10' + ['⁰','¹','²','³','⁴'][datum.value] : ''","labelFont":"Lato","labelFontSize":54,"labelOverlap":false,"labelBound":false,"labelFlush":false,"labelPadding":6,"labelOffset":10,"tickSize":{"condition":{"test":"datum.value % 1 === 0","value":14},"value":7},"tickWidth":2,"domainWidth":2}}},
"layer":[
{"data":{"name":"flow"},"transform":[{"filter":"datum.panel===3"}],"mark":{"type":"area","interpolate":"basis","strokeWidth":7,"strokeJoin":"round"},"encoding":{"y2":{"field":"y2"},"color":{"field":"level","type":"ordinal","legend":null,"scale":{"domain":[1,2,3,4,5,6,7,8,9],"range":["#e2e2e2","#d4d4d4","#c0c0c0","#a0a0a0","#7c7c7c","#555555","#333333","#161616","#000000"]}},"stroke":{"field":"level","type":"ordinal","legend":null,"scale":{"domain":[1,2,3,4,5,6,7,8,9],"range":["#e2e2e2","#d4d4d4","#c0c0c0","#a0a0a0","#7c7c7c","#555555","#333333","#161616","#000000"]}}}},
{"data":{"name":"frame"},"mark":{"type":"line","color":"#000","strokeWidth":3},"encoding":{"order":{"field":"o"}}},
{"data":{"name":"gate"},"transform":[{"filter":"datum.panel===3"}],"mark":{"type":"line","color":"#1a1aff","strokeWidth":3},"encoding":{"order":{"field":"o"}}},
{"data":{"name":"labels"},"transform":[{"filter":"datum.panel===3"}],"mark":{"type":"text","font":"Lato","fontSize":84,"baseline":"alphabetic","align":"center"},"encoding":{"x":{"field":"px"},"y":{"field":"py"},"text":{"field":"pct"}}},
{"data":{"name":"labels"},"transform":[{"filter":"datum.panel===3"}],"mark":{"type":"text","font":"Lato","fontSize":54,"fontWeight":"bold","fontStyle":"italic","baseline":"alphabetic","align":"right"},"encoding":{"x":{"field":"nx"},"y":{"field":"ty"},"text":{"field":"nod"}}},
{"data":{"name":"labels"},"transform":[{"filter":"datum.panel===3"}],"mark":{"type":"text","font":"Lato","fontSize":38,"fontWeight":"bold","fontStyle":"italic","baseline":"alphabetic","align":"left"},"encoding":{"x":{"field":"nx"},"y":{"field":"sy"},"text":{"field":"sup"}}},
{"data":{"name":"labels"},"transform":[{"filter":"datum.panel===3"}],"mark":{"type":"text","font":"Lato","fontSize":54,"fontWeight":"bold","baseline":"alphabetic","align":"left"},"encoding":{"x":{"field":"rx"},"y":{"field":"ty"},"text":{"field":"rest"}}}
]},
{"width":803,"height":559,"encoding":{"x":{"field":"x","type":"quantitative","scale":{"domain":[0,4],"range":[0,506],"nice":false,"zero":false},"axis":{"title":null,"grid":false,"values":[0,0.301,0.477,0.602,0.699,0.778,0.845,0.903,0.954,1,1.301,1.477,1.602,1.699,1.778,1.845,1.903,1.954,2,2.301,2.477,2.602,2.699,2.778,2.845,2.903,2.954,3,3.301,3.477,3.602,3.699,3.778,3.845,3.903,3.954,4],"labelExpr":"datum.value % 1 === 0 ? '10' + ['⁰','¹','²','³','⁴'][datum.value] : ''","labelFont":"Lato","labelFontSize":54,"labelOverlap":false,"labelBound":false,"labelFlush":false,"labelPadding":8,"labelOffset":8,"labelAlign":{"condition":{"test":"datum.value === 0","value":"right"},"value":"center"},"tickSize":{"condition":{"test":"datum.value % 1 === 0","value":14},"value":7},"tickWidth":2,"domainWidth":2}},"y":{"field":"y","type":"quantitative","scale":{"domain":[0,4],"range":[559,0],"nice":false,"zero":false},"axis":{"title":null,"grid":false,"values":[0.301,0.477,0.602,0.699,0.778,0.845,0.903,0.954,1,1.301,1.477,1.602,1.699,1.778,1.845,1.903,1.954,2,2.301,2.477,2.602,2.699,2.778,2.845,2.903,2.954,3,3.301,3.477,3.602,3.699,3.778,3.845,3.903,3.954,4],"labelExpr":"datum.value % 1 === 0 ? '10' + ['⁰','¹','²','³','⁴'][datum.value] : ''","labelFont":"Lato","labelFontSize":54,"labelOverlap":false,"labelBound":false,"labelFlush":false,"labelPadding":6,"labelOffset":10,"tickSize":{"condition":{"test":"datum.value % 1 === 0","value":14},"value":7},"tickWidth":2,"domainWidth":2}}},
"layer":[
{"data":{"name":"flow"},"transform":[{"filter":"datum.panel===4"}],"mark":{"type":"area","interpolate":"basis","strokeWidth":7,"strokeJoin":"round"},"encoding":{"y2":{"field":"y2"},"color":{"field":"level","type":"ordinal","legend":null,"scale":{"domain":[1,2,3,4,5,6,7,8,9],"range":["#e2e2e2","#d4d4d4","#c0c0c0","#a0a0a0","#7c7c7c","#555555","#333333","#161616","#000000"]}},"stroke":{"field":"level","type":"ordinal","legend":null,"scale":{"domain":[1,2,3,4,5,6,7,8,9],"range":["#e2e2e2","#d4d4d4","#c0c0c0","#a0a0a0","#7c7c7c","#555555","#333333","#161616","#000000"]}}}},
{"data":{"name":"frame"},"mark":{"type":"line","color":"#000","strokeWidth":2},"encoding":{"order":{"field":"o"}}},
{"data":{"name":"gate"},"transform":[{"filter":"datum.panel===4"}],"mark":{"type":"line","color":"#3a3aff","strokeWidth":2.5},"encoding":{"order":{"field":"o"}}},
{"data":{"name":"labels"},"transform":[{"filter":"datum.panel===4"}],"mark":{"type":"text","font":"Lato","fontSize":84,"baseline":"alphabetic","align":"center"},"encoding":{"x":{"field":"px"},"y":{"field":"py"},"text":{"field":"pct"}}},
{"data":{"name":"labels"},"transform":[{"filter":"datum.panel===4"}],"mark":{"type":"text","font":"Lato","fontSize":54,"fontWeight":"bold","fontStyle":"italic","baseline":"alphabetic","align":"right"},"encoding":{"x":{"field":"nx"},"y":{"field":"ty"},"text":{"field":"nod"}}},
{"data":{"name":"labels"},"transform":[{"filter":"datum.panel===4"}],"mark":{"type":"text","font":"Lato","fontSize":38,"fontWeight":"bold","fontStyle":"italic","baseline":"alphabetic","align":"left"},"encoding":{"x":{"field":"nx"},"y":{"field":"sy"},"text":{"field":"sup"}}},
{"data":{"name":"labels"},"transform":[{"filter":"datum.panel===4"}],"mark":{"type":"text","font":"Lato","fontSize":54,"fontWeight":"bold","baseline":"alphabetic","align":"left"},"encoding":{"x":{"field":"rx"},"y":{"field":"ty"},"text":{"field":"rest"}}}
]},
{"width":646,"height":525,"encoding":{"x":{"field":"group","type":"nominal","scale":{"domain":["g1","g2","g3","g4"],"range":[0,646],"paddingInner":0.331,"paddingOuter":0.147},"axis":{"title":null,"labels":false,"ticks":false,"domainWidth":8}}},
"layer":[
{"data":{"name":"bars"},"transform":[{"filter":"datum.panel==='A'"}],"mark":{"type":"rule","strokeWidth":6},"encoding":{"y":{"field":"mean","type":"quantitative"},"y2":{"field":"upper"},"color":{"field":"group","legend":null,"scale":{"domain":["g1","g2","g3","g4"],"range":["#000000","#636363","#a3a3a6","#000000"]}}}},
{"data":{"name":"bars"},"transform":[{"filter":"datum.panel==='A'"}],"mark":{"type":"tick","orient":"horizontal","size":60,"thickness":8,"cornerRadius":3},"encoding":{"y":{"field":"upper","type":"quantitative"},"color":{"field":"group","legend":null,"scale":{"domain":["g1","g2","g3","g4"],"range":["#000000","#636363","#a3a3a6","#000000"]}}}},
{"data":{"name":"bars"},"transform":[{"filter":"datum.panel==='A'"}],"mark":{"type":"bar","strokeWidth":6},"encoding":{"y":{"field":"mean","type":"quantitative","scale":{"domain":[0,15],"range":[525,52],"nice":false},"axis":{"title":"% CD19⁺IgA⁺ cells","values":[0,5,10,15],"labelFont":"Liberation Sans","labelFontWeight":"bold","labelFontSize":50,"labelPadding":4,"tickSize":20,"tickWidth":6,"domainWidth":7,"titleFont":"Liberation Sans","titleFontWeight":"bold","titleFontSize":54,"titleAngle":270,"titleAlign":"center","titleBaseline":"middle","titleX":-143,"titleY":279}},"fill":{"field":"group","legend":null,"scale":{"domain":["g1","g2","g3","g4"],"range":["#000000","#636363","#a3a3a6","#ffffff"]}},"stroke":{"field":"group","legend":null,"scale":{"domain":["g1","g2","g3","g4"],"range":["#000000","#636363","#a3a3a6","#000000"]}}}},
{"data":{"name":"brackets"},"transform":[{"filter":"datum.panel==='A'"}],"mark":{"type":"line","color":"#000","strokeWidth":5},"encoding":{"y":{"field":"y","type":"quantitative"},"detail":{"field":"id"}}},
{"data":{"name":"brackets"},"transform":[{"filter":"datum.panel==='A'"}],"mark":{"type":"rule","color":"#000","strokeWidth":5},"encoding":{"y":{"field":"lo","type":"quantitative"},"y2":{"field":"hi"}}},
{"data":{"values":[{"group":"g3","y":12.37,"t":"*"}]},"mark":{"type":"text","font":"Liberation Sans","fontWeight":"bold","fontSize":72,"baseline":"alphabetic","dx":81},"encoding":{"y":{"field":"y","type":"quantitative"},"text":{"field":"t"}}}
]},
{"width":100,"height":690,"encoding":{"x":{"field":"group","type":"nominal","scale":{"domain":["g1","g2","g3","g4"],"range":[156,949],"paddingInner":0.295,"paddingOuter":0.13},"axis":{"title":null,"labels":false,"ticks":false,"domainWidth":10}}},
"layer":[
{"data":{"name":"bars"},"transform":[{"filter":"datum.panel==='B'"}],"mark":{"type":"rule","strokeWidth":6},"encoding":{"y":{"field":"mean","type":"quantitative"},"y2":{"field":"upper"},"color":{"field":"group","legend":null,"scale":{"domain":["g1","g2","g3","g4"],"range":["#000000","#636363","#a3a3a6","#000000"]}}}},
{"data":{"name":"bars"},"transform":[{"filter":"datum.panel==='B'"}],"mark":{"type":"tick","orient":"horizontal","size":72,"thickness":7,"cornerRadius":3},"encoding":{"y":{"field":"upper","type":"quantitative"},"color":{"field":"group","legend":null,"scale":{"domain":["g1","g2","g3","g4"],"range":["#000000","#636363","#a3a3a6","#000000"]}}}},
{"data":{"name":"bars"},"transform":[{"filter":"datum.panel==='B'"}],"mark":{"type":"bar","strokeWidth":6},"encoding":{"y":{"field":"mean","type":"quantitative","scale":{"domain":[0,2],"range":[690,154],"nice":false},"axis":{"offset":-156,"title":"µg/ml","values":[0,0.5,1,1.5,2],"format":".1f","labelFont":"Liberation Sans","labelFontWeight":"bold","labelFontSize":58,"labelPadding":2,"tickSize":27,"tickWidth":7,"domainWidth":8,"titleFont":"Liberation Sans","titleFontWeight":"bold","titleFontSize":64,"titleAngle":270,"titleAlign":"center","titleBaseline":"middle","titleX":-172,"titleY":408}},"fill":{"field":"group","legend":null,"scale":{"domain":["g1","g2","g3","g4"],"range":["#000000","#636363","#a3a3a6","#ffffff"]}},"stroke":{"field":"group","legend":null,"scale":{"domain":["g1","g2","g3","g4"],"range":["#000000","#636363","#a3a3a6","#000000"]}}}},
{"data":{"name":"brackets"},"transform":[{"filter":"datum.panel==='B'"}],"mark":{"type":"line","color":"#000","strokeWidth":6},"encoding":{"y":{"field":"y","type":"quantitative"},"detail":{"field":"id"}}},
{"data":{"name":"brackets"},"transform":[{"filter":"datum.panel==='B'"}],"mark":{"type":"rule","color":"#000","strokeWidth":6},"encoding":{"y":{"field":"lo","type":"quantitative"},"y2":{"field":"hi"}}},
{"data":{"values":[{"group":"g3","y":1.81,"t":"*"}]},"mark":{"type":"text","font":"Liberation Sans","fontWeight":"bold","fontSize":80,"baseline":"alphabetic","dx":96},"encoding":{"y":{"field":"y","type":"quantitative"},"text":{"field":"t"}}},
{"data":{"values":[{"group":"g1","y":2.776,"t":"B"}]},"mark":{"type":"text","font":"Lato","fontSize":76,"baseline":"alphabetic","dx":-360},"encoding":{"y":{"field":"y","type":"quantitative"},"text":{"field":"t"}}},
{"data":{"values":[{"group":"g2","y":2.42,"t":"Small intestinal content IgA"}]},"mark":{"type":"text","font":"Lato","fontWeight":"bold","fontSize":59,"baseline":"alphabetic","dx":90},"encoding":{"y":{"field":"y","type":"quantitative"},"text":{"field":"t"}}}
]},
{"width":100,"height":669,"encoding":{"x":{"field":"group","type":"nominal","scale":{"domain":["g1","g2","g3","g4"],"range":[699,1429],"paddingInner":0.335,"paddingOuter":0.155},"axis":{"title":null,"labels":false,"ticks":false,"domainWidth":8}}},
"layer":[
{"data":{"name":"bars"},"transform":[{"filter":"datum.panel==='C'"}],"mark":{"type":"rule","strokeWidth":3.5},"encoding":{"y":{"field":"mean","type":"quantitative"},"y2":{"field":"upper"},"color":{"field":"group","legend":null,"scale":{"domain":["g1","g2","g3","g4"],"range":["#000000","#808080","#bfbfbf","#000000"]}}}},
{"data":{"name":"bars"},"transform":[{"filter":"datum.panel==='C'"}],"mark":{"type":"tick","orient":"horizontal","size":65,"thickness":4},"encoding":{"y":{"field":"upper","type":"quantitative"},"color":{"field":"group","legend":null,"scale":{"domain":["g1","g2","g3","g4"],"range":["#000000","#808080","#bfbfbf","#000000"]}}}},
{"data":{"name":"bars"},"transform":[{"filter":"datum.panel==='C'"}],"mark":{"type":"bar","strokeWidth":6},"encoding":{"y":{"field":"mean","type":"quantitative","scale":{"domain":[0,5],"range":[669,26],"nice":false},"axis":{"offset":-699,"title":"%CD19+B220+IgG2b+","values":[0,1,2,3,4,5],"format":"d","labelFont":"Liberation Sans","labelFontWeight":"bold","labelFontSize":48,"labelPadding":3,"tickSize":17,"tickWidth":6,"domainWidth":7,"titleFont":"Liberation Sans","titleFontWeight":"bold","titleFontSize":51,"titleAngle":270,"titleAlign":"center","titleBaseline":"middle","titleX":-114,"titleY":339}},"fill":{"field":"group","legend":null,"scale":{"domain":["g1","g2","g3","g4"],"range":["#000000","#808080","#bfbfbf","#ffffff"]}},"stroke":{"field":"group","legend":null,"scale":{"domain":["g1","g2","g3","g4"],"range":["#000000","#808080","#bfbfbf","#000000"]}}}},
{"data":{"name":"brackets"},"transform":[{"filter":"datum.panel==='C'"}],"mark":{"type":"line","color":"#000","strokeWidth":5},"encoding":{"y":{"field":"y","type":"quantitative"},"detail":{"field":"id"}}},
{"data":{"name":"brackets"},"transform":[{"filter":"datum.panel==='C'"}],"mark":{"type":"rule","color":"#000","strokeWidth":5},"encoding":{"y":{"field":"lo","type":"quantitative"},"y2":{"field":"hi"}}},
{"data":{"values":[{"group":"g2","y":4.65,"t":"*"},{"group":"g3","y":5.65,"t":"*"}]},"mark":{"type":"text","font":"Liberation Sans","fontWeight":"bold","fontSize":48,"baseline":"alphabetic","dx":90},"encoding":{"y":{"field":"y","type":"quantitative"},"text":{"field":"t"}}},
{"data":{"values":[{"group":"g1","y":5.12,"t":"C"}]},"mark":{"type":"text","font":"Lato","fontSize":76,"baseline":"alphabetic","dx":-308},"encoding":{"y":{"field":"y","type":"quantitative"},"text":{"field":"t"}}}
]},
{"width":100,"height":662,"encoding":{"x":{"field":"group","type":"nominal","scale":{"domain":["g1","g2","g3","g4"],"range":[1126,1821],"paddingInner":0.345,"paddingOuter":0.16},"axis":{"title":null,"labels":false,"ticks":false,"domainWidth":8}}},
"layer":[
{"data":{"name":"bars"},"transform":[{"filter":"datum.panel==='D'"}],"mark":{"type":"rule","strokeWidth":3.5},"encoding":{"y":{"field":"mean","type":"quantitative"},"y2":{"field":"upper"},"color":{"field":"group","legend":null,"scale":{"domain":["g1","g2","g3","g4"],"range":["#000000","#808080","#bfbfbf","#000000"]}}}},
{"data":{"name":"bars"},"transform":[{"filter":"datum.panel==='D'"}],"mark":{"type":"tick","orient":"horizontal","size":60,"thickness":4},"encoding":{"y":{"field":"upper","type":"quantitative"},"color":{"field":"group","legend":null,"scale":{"domain":["g1","g2","g3","g4"],"range":["#000000","#808080","#bfbfbf","#000000"]}}}},
{"data":{"name":"bars"},"transform":[{"filter":"datum.panel==='D'"}],"mark":{"type":"bar","strokeWidth":6},"encoding":{"y":{"field":"mean","type":"quantitative","scale":{"domain":[0,6],"range":[662,51],"nice":false},"axis":{"offset":-1126,"title":"%CD19+B220+IgG1+","values":[0,2,4,6],"format":"d","labelFont":"Liberation Sans","labelFontWeight":"bold","labelFontSize":48,"labelPadding":3,"tickSize":15,"tickWidth":6,"domainWidth":7,"titleFont":"Liberation Sans","titleFontWeight":"bold","titleFontSize":50,"titleAngle":270,"titleAlign":"center","titleBaseline":"middle","titleX":-109,"titleY":347}},"fill":{"field":"group","legend":null,"scale":{"domain":["g1","g2","g3","g4"],"range":["#000000","#808080","#bfbfbf","#ffffff"]}},"stroke":{"field":"group","legend":null,"scale":{"domain":["g1","g2","g3","g4"],"range":["#000000","#808080","#bfbfbf","#000000"]}}}},
{"data":{"name":"brackets"},"transform":[{"filter":"datum.panel==='D'"}],"mark":{"type":"line","color":"#000","strokeWidth":5},"encoding":{"y":{"field":"y","type":"quantitative"},"detail":{"field":"id"}}},
{"data":{"name":"brackets"},"transform":[{"filter":"datum.panel==='D'"}],"mark":{"type":"rule","color":"#000","strokeWidth":5},"encoding":{"y":{"field":"lo","type":"quantitative"},"y2":{"field":"hi"}}},
{"data":{"values":[{"group":"g3","y":5.95,"t":"**"}]},"mark":{"type":"text","font":"Liberation Sans","fontWeight":"bold","fontSize":48,"baseline":"alphabetic"},"encoding":{"y":{"field":"y","type":"quantitative"},"text":{"field":"t"}}},
{"data":{"values":[{"group":"g1","y":6.39,"t":"D"}]},"mark":{"type":"text","font":"Lato","fontSize":76,"baseline":"alphabetic","dx":-348},"encoding":{"y":{"field":"y","type":"quantitative"},"text":{"field":"t"}}}
]},
{"width":100,"height":100,"data":{"values":[{"group":"g1","sw":"swatch","nod":"Nod2","sup":"+/+","rest":"NOD NCH"},{"group":"g2","sw":"swatch","nod":"Nod2","sup":"+/+","rest":"NOD CH"},{"group":"g3","sw":"swatch","nod":"Nod2","sup":"-/-","rest":"NOD NCH"},{"group":"g4","sw":"swatch","nod":"Nod2","sup":"-/-","rest":"NOD CH"}]},"encoding":{"x":{"field":"sw","type":"nominal","axis":null,"scale":{"domain":["swatch"],"range":[673,744],"paddingInner":0,"paddingOuter":0}},"y":{"field":"group","type":"nominal","axis":null,"scale":{"domain":["g1","g2","g3","g4"],"range":[850,1154],"paddingInner":0,"paddingOuter":0}}},
"layer":[
{"mark":{"type":"bar","strokeWidth":8},"encoding":{"fill":{"field":"group","legend":null,"scale":{"domain":["g1","g2","g3","g4"],"range":["#000000","#666666","#999999","#ffffff"]}},"stroke":{"field":"group","legend":null,"scale":{"domain":["g1","g2","g3","g4"],"range":["transparent","transparent","transparent","#000000"]}}}},
{"mark":{"type":"text","font":"Liberation Sans","fontSize":70,"fontWeight":"bold","fontStyle":"italic","baseline":"alphabetic","align":"left","dx":70,"dy":28},"encoding":{"text":{"field":"nod"}}},
{"mark":{"type":"text","font":"Liberation Sans","fontSize":50,"fontWeight":"bold","fontStyle":"italic","baseline":"alphabetic","align":"left","dx":240,"dy":-3},"encoding":{"text":{"field":"sup"}}},
{"transform":[{"filter":"datum.sup==='+/+'"}],"mark":{"type":"text","font":"Liberation Sans","fontSize":70,"fontWeight":"bold","baseline":"alphabetic","align":"left","dx":341,"dy":28},"encoding":{"text":{"field":"rest"}}},
{"transform":[{"filter":"datum.sup==='-/-'"}],"mark":{"type":"text","font":"Liberation Sans","fontSize":70,"fontWeight":"bold","baseline":"alphabetic","align":"left","dx":316,"dy":28},"encoding":{"text":{"field":"rest"}}}
]}
],
"columns":5,"bounds":"flush","spacing":{"row":437,"column":0}}
